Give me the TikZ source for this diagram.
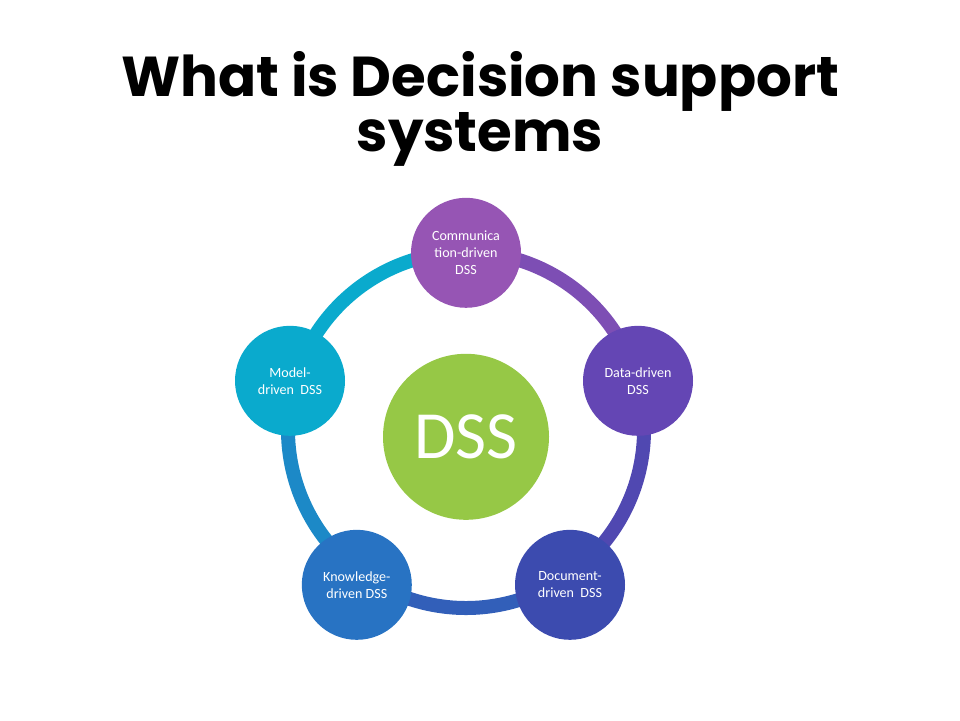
\documentclass[tikz,border=0pt]{standalone}
\usepackage{fontspec}
\setmainfont{Carlito}
\newfontfamily\titlefont{Poppins}
\usetikzlibrary{positioning}

\definecolor{commcol}{RGB}{150,85,180}
\definecolor{datacol}{RGB}{100,70,180}
\definecolor{doccol}{RGB}{60,75,175}
\definecolor{knowcol}{RGB}{40,115,195}
\definecolor{modelcol}{RGB}{10,170,205}
\definecolor{dsscol}{RGB}{150,200,70}

\begin{document}
\begin{tikzpicture}[
    x=1cm, y=-1cm,
    dssnode/.style={circle, minimum size=2.75cm, inner sep=0pt, align=center,
                    text=white, font=\fontsize{10}{12}\selectfont},
    core/.style={circle, fill=dsscol, minimum size=4.15cm, inner sep=0pt,
                 text=white, font=\fontsize{48}{50}\selectfont},
    ring/.style={line width=0.35cm}
]

\useasboundingbox (0,0) rectangle (24,18);

% Titel
\node[font=\titlefont\bfseries\fontsize{40}{36}\selectfont, align=center] (title) at (12,2.72)
    {What is Decision support\\systems};

% Ring
\coordinate (c) at (11.65,10.75);
\draw[ring, commcol!50!datacol] (c) ++(-90:4.45) arc[start angle=-90, end angle=-18, radius=4.45];
\draw[ring, datacol!50!doccol] (c) ++(-18:4.45) arc[start angle=-18, end angle=54, radius=4.45];
\draw[ring, doccol!50!knowcol] (c) ++(54:4.45) arc[start angle=54, end angle=126, radius=4.45];
\draw[ring, knowcol!60!modelcol] (c) ++(126:4.45) arc[start angle=126, end angle=198, radius=4.45];
\draw[ring, modelcol] (c) ++(198:4.45) arc[start angle=198, end angle=270, radius=4.45];

% Knoten
\node[core] (dss) at (11.65,10.92) {DSS};
\node[dssnode, fill=commcol] (comm) at (11.65,6.32) {Communica\\tion-driven\\DSS};
\node[dssnode, fill=datacol] (data) at (15.95,9.52) {Data-driven\\DSS};
\node[dssnode, fill=doccol] (doc) at (14.25,14.62) {Document-\\driven\ \ DSS};
\node[dssnode, fill=knowcol] (know) at (8.92,14.62) {Knowledge-\\driven DSS};
\node[dssnode, fill=modelcol] (model) at (7.25,9.52) {Model-\\driven\ \ DSS};

\end{tikzpicture}
\end{document}
